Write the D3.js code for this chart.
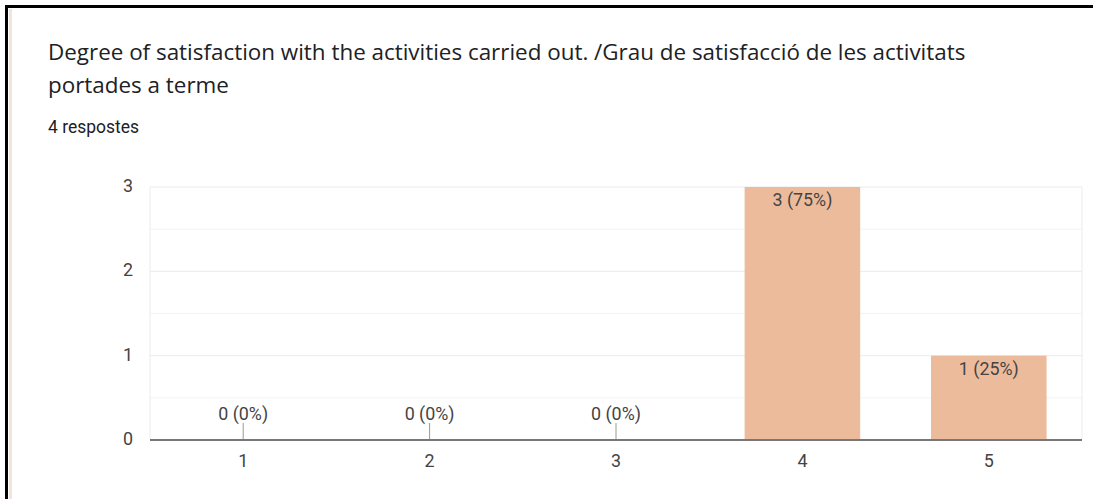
<!DOCTYPE html>
<html>
<head>
<meta charset="utf-8">
<script src="https://cdn.jsdelivr.net/npm/d3@7"></script>
<style>
  body { margin: 0; background: #fff; }
  svg { display: block; }
</style>
</head>
<body>
<div id="chart"></div>
<script>
const title1 = 'Degree of satisfaction with the activities carried out. /Grau de satisfacció de les activitats';
const title2 = 'portades a terme';
const subtitle = '4 respostes';
const categories = ['1', '2', '3', '4', '5'];
const counts = [0, 0, 0, 3, 1];
const yTicks = [0, 1, 2, 3];

const width = 1093;
const height = 499;
const total = d3.sum(counts);

const svg = d3.select('#chart').append('svg')
    .attr('width', width)
    .attr('height', height);

// pick a font size so the text spans the wanted width
function fitSize(family, text, target) {
    const t = svg.append('text').attr('font-family', family).attr('font-size', 100).text(text);
    const w = t.node().getComputedTextLength();
    t.remove();
    return 100 * target / w;
}

const titleFont = '"Open Sans", sans-serif';
const bodyFont = 'Roboto, Arial, sans-serif';
const titleSize = fitSize(titleFont, title1, 918);
const subSize = fitSize(bodyFont, subtitle, 91);
const labelSize = fitSize(bodyFont, '3 (75%)', 60);

// card frame (black edge top/left, faint peach inner edge)
svg.append('rect').attr('x', 9).attr('y', 9).attr('width', 3).attr('height', height).attr('fill', '#f6e3d7');
svg.append('rect').attr('x', 5).attr('y', 5).attr('width', width).attr('height', 3).attr('fill', '#000');
svg.append('rect').attr('x', 5).attr('y', 5).attr('width', 3).attr('height', height).attr('fill', '#000');

svg.append('text')
    .attr('x', 48).attr('y', 60)
    .attr('font-family', titleFont)
    .attr('font-size', titleSize)
    .attr('fill', '#202124')
    .text(title1);
svg.append('text')
    .attr('x', 48).attr('y', 93)
    .attr('font-family', titleFont)
    .attr('font-size', titleSize)
    .attr('fill', '#202124')
    .text(title2);
svg.append('text')
    .attr('x', 48).attr('y', 133)
    .attr('font-family', bodyFont)
    .attr('font-size', subSize)
    .attr('fill', '#202124')
    .text(subtitle);

const margin = { left: 150, right: 1082, top: 187, bottom: 440 };

const x = d3.scaleBand()
    .domain(categories)
    .range([margin.left, margin.right])
    .paddingInner(0.38)
    .paddingOuter(0.19);

const y = d3.scaleLinear()
    .domain([0, 3])
    .range([margin.bottom, margin.top]);

const g = svg.append('g').attr('font-family', bodyFont);

// minor gridlines
g.selectAll('line.minor')
    .data(d3.range(0.5, 3, 1))
    .enter().append('line')
    .attr('x1', margin.left).attr('x2', margin.right)
    .attr('y1', d => y(d)).attr('y2', d => y(d))
    .attr('stroke', '#f3f3f3');

// major gridlines
g.selectAll('line.major')
    .data(yTicks.slice(1))
    .enter().append('line')
    .attr('x1', margin.left).attr('x2', margin.right)
    .attr('y1', d => y(d)).attr('y2', d => y(d))
    .attr('stroke', '#ebebeb');

// side edges of plot
[margin.left, margin.right].forEach(px => {
    g.append('line')
        .attr('x1', px).attr('x2', px)
        .attr('y1', margin.top).attr('y2', margin.bottom)
        .attr('stroke', '#ebebeb');
});

// y labels
g.selectAll('text.ylab')
    .data(yTicks)
    .enter().append('text')
    .attr('x', 133)
    .attr('y', d => y(d) + 5)
    .attr('text-anchor', 'end')
    .attr('font-size', labelSize)
    .attr('fill', '#444')
    .text(d => d);

// bars
g.selectAll('rect.bar')
    .data(counts)
    .enter().append('rect')
    .attr('x', (d, i) => x(categories[i]))
    .attr('y', d => y(d))
    .attr('width', x.bandwidth())
    .attr('height', d => y(0) - y(d))
    .attr('fill', '#ecbb9c');

// zero-value stems
g.selectAll('line.stem')
    .data(counts.map((d, i) => ({ d, i })).filter(o => o.d === 0))
    .enter().append('line')
    .attr('x1', o => x(categories[o.i]) + x.bandwidth() / 2)
    .attr('x2', o => x(categories[o.i]) + x.bandwidth() / 2)
    .attr('y1', y(0) - 17).attr('y2', y(0))
    .attr('stroke', '#999');

// bar labels
g.selectAll('text.val')
    .data(counts)
    .enter().append('text')
    .attr('x', (d, i) => x(categories[i]) + x.bandwidth() / 2)
    .attr('y', d => d === 0 ? y(0) - 20 : y(d) + 19)
    .attr('text-anchor', 'middle')
    .attr('font-size', labelSize)
    .attr('fill', '#444')
    .text(d => `${d} (${Math.round(d / total * 100)}%)`);

// baseline
g.append('line')
    .attr('x1', margin.left).attr('x2', margin.right)
    .attr('y1', y(0)).attr('y2', y(0))
    .attr('stroke', '#777')
    .attr('stroke-width', 2);

// x labels
g.selectAll('text.xlab')
    .data(categories)
    .enter().append('text')
    .attr('x', d => x(d) + x.bandwidth() / 2)
    .attr('y', 467)
    .attr('text-anchor', 'middle')
    .attr('font-size', labelSize)
    .attr('fill', '#444')
    .text(d => d);
</script>
</body>
</html>
